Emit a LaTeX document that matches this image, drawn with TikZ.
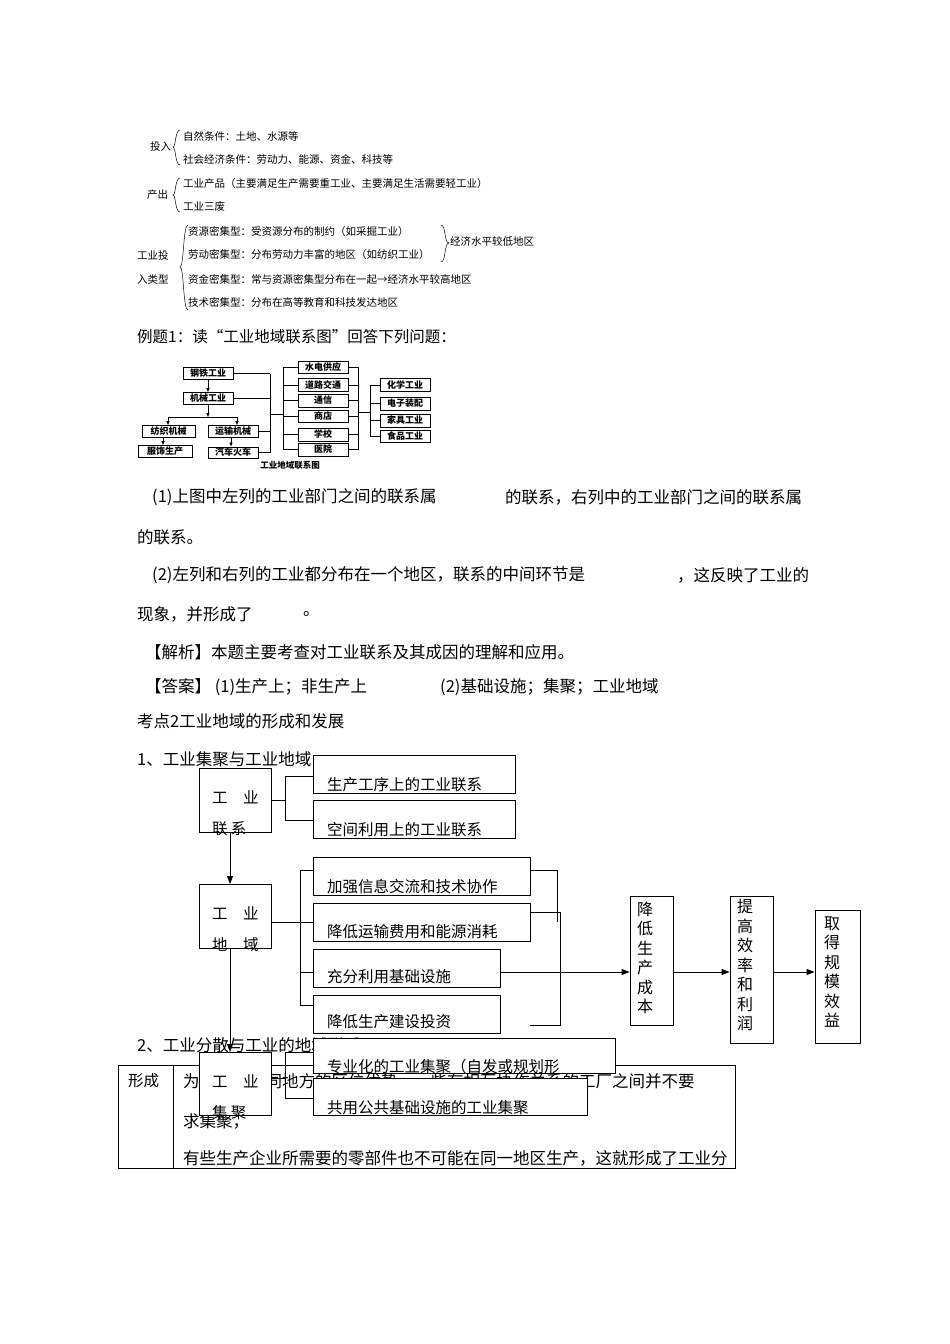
\documentclass[tikz,border=0pt]{standalone}
\usepackage{fontspec}
\setmainfont{Noto Sans CJK SC}
\usetikzlibrary{arrows.meta}
\begin{document}
\begin{tikzpicture}[x=1pt,y=-1pt,
 sm/.style={anchor=west,inner sep=0pt,font=\fontsize{10.5}{12}\selectfont},
 tx/.style={anchor=west,inner sep=0pt,font=\fontsize{16.5}{18}\selectfont},
 bx/.style={draw,fill=white,line width=0.8pt,inner sep=0pt},
 lab/.style={anchor=west,inner sep=0pt,font=\fontsize{15.5}{18}\selectfont},
 mini/.style={draw,line width=1pt,inner sep=0pt,font=\fontsize{9}{10}\selectfont\bfseries},
 ln/.style={line width=0.8pt},
 arr/.style={line width=0.8pt,-{Triangle[length=8pt,width=6pt]}},
 marr/.style={line width=0.8pt,-{Triangle[length=4pt,width=3pt]}},
 vt/.style={align=center,inner sep=0pt,font=\fontsize{16}{19.5}\selectfont}]
\useasboundingbox[fill=white] (0,0) rectangle (950,1344);
% ---- top section
\node[sm] (tr) at (150,147) {投入};
\draw[ln,line width=0.5pt] (180,130) .. controls (175,130) and (176,147) .. (173,147) .. controls (176,147) and (175,165) .. (180,165);
\node[sm] (t1) at (183,136) {自然条件：土地、水源等};
\node[sm] (t2) at (183,159) {社会经济条件：劳动力、能源、资金、科技等};
\node[sm] (cc) at (147,195) {产出};
\draw[ln,line width=0.5pt] (180,178) .. controls (175,178) and (176,195) .. (173,195) .. controls (176,195) and (175,212) .. (180,212);
\node[sm] (c1) at (183,184) {工业产品（主要满足生产需要重工业、主要满足生活需要轻工业）};
\node[sm] (c2) at (183,207) {工业三废};
\node[sm] (g1) at (137,256) {工业投};
\node[sm] (g2) at (137,280) {入类型};
\draw[ln,line width=0.5pt] (188,225) .. controls (183,225) and (184,267) .. (180,267) .. controls (184,267) and (183,310) .. (188,310);
\node[sm] (l1) at (188,232) {资源密集型：受资源分布的制约（如采掘工业）};
\node[sm] (l2) at (188,255) {劳动密集型：分布劳动力丰富的地区（如纺织工业）};
\node[sm] (l3) at (188,279) {资金密集型：常与资源密集型分布在一起→经济水平较高地区};
\node[sm] (l4) at (188,302) {技术密集型：分布在高等教育和科技发达地区};
\draw[ln,line width=0.5pt] (441,225) .. controls (446,225) and (444,243) .. (449,243) .. controls (444,243) and (446,262) .. (441,262);
\node[sm] (l5) at (450,242) {经济水平较低地区};
% ---- example
\node[tx,font=\fontsize{15.5}{18}\selectfont] (ex) at (137,337) {例题1：读“工业地域联系图”回答下列问题：};
% mini diagram
\node[mini,minimum width=50pt,minimum height=12pt] (m1) at (208,373.5) {钢铁工业};
\node[mini,minimum width=50pt,minimum height=12pt] (m2) at (208,398.5) {机械工业};
\node[mini,minimum width=53pt,minimum height=12pt] (m3) at (168.5,431.5) {纺织机械};
\node[mini,minimum width=50pt,minimum height=12pt] (m4) at (233,431.5) {运输机械};
\node[mini,minimum width=54pt,minimum height=12pt] (m5) at (165,451.5) {服饰生产};
\node[mini,minimum width=50pt,minimum height=11pt] (m6) at (233,452.5) {汽车火车};
\draw[marr] (m1) -- (m2);
\draw[marr] (m2.south) -- ++(0,12) coordinate (mj);
\draw[ln] (168,417) -- (237,417);
\draw[marr] (168,417) -- (m3.north -| 168,0);
\draw[marr] (237,417) -- (m4.north -| 237,0);
\draw[marr] (m3.south -| 163,0) -- (m5.north -| 163,0);
\draw[marr] (m4.south -| 231,0) -- (m6.north -| 231,0);
\foreach \n in {m1,m2,m4,m6} \draw[ln] (\n.east) -- (\n.east -| 270,0);
\draw[ln] (270,373.5) -- (270,452.5);
\draw[ln] (270,414) -- (283,414);
\draw[ln] (283,367) -- (283,450);
\node[mini,minimum width=50pt,minimum height=12pt] (r1) at (323,367) {水电供应};
\node[mini,minimum width=50pt,minimum height=13pt] (r2) at (323,385) {道路交通};
\node[mini,minimum width=50pt,minimum height=13pt] (r3) at (323,400.5) {通信};
\node[mini,minimum width=50pt,minimum height=12pt] (r4) at (323,416) {商店};
\node[mini,minimum width=50pt,minimum height=13pt] (r5) at (323,434.5) {学校};
\node[mini,minimum width=50pt,minimum height=13pt] (r6) at (323,449.5) {医院};
\foreach \n in {r1,r2,r3,r4,r5,r6} {\draw[ln] (\n.west) -- (\n.west -| 283,0); \draw[ln] (\n.east) -- (\n.east -| 358,0);}
\draw[ln] (358,367) -- (358,450);
\draw[ln] (358,412) -- (370,412);
\draw[ln] (370,385) -- (370,436);
\node[mini,minimum width=50pt,minimum height=13pt] (q1) at (405,385) {化学工业};
\node[mini,minimum width=50pt,minimum height=13pt] (q2) at (405,403.5) {电子装配};
\node[mini,minimum width=50pt,minimum height=13pt] (q3) at (405,420.5) {家具工业};
\node[mini,minimum width=50pt,minimum height=12pt] (q4) at (405,436) {食品工业};
\foreach \n in {q1,q2,q3,q4} \draw[ln] (\n.west) -- (\n.west -| 370,0);
\node[inner sep=0pt,font=\fontsize{8.5}{10}\selectfont\bfseries] (cap) at (290,465) {工业地域联系图};
% ---- text lines
\node[tx] (p1) at (152,497) {(1)上图中左列的工业部门之间的联系属};
\node[tx] (p1b) at (505,497) {的联系，右列中的工业部门之间的联系属};
\node[tx] (p2) at (137,537) {的联系。};
\node[tx] (p3) at (152,575) {(2)左列和右列的工业都分布在一个地区，联系的中间环节是};
\node[tx] (p3b) at (677,575) {，这反映了工业的};
\node[tx] (p4) at (137,614) {现象，并形成了};
\node[tx] (p4b) at (303,614) {。};
\node[tx] (p5) at (145,652) {【解析】本题主要考查对工业联系及其成因的理解和应用。};
\node[tx] (p6) at (145,687) {【答案】 (1)生产上；非生产上};
\node[tx] (p6b) at (440,687) {(2)基础设施；集聚；工业地域};
\node[tx] (p7) at (137,721) {考点2工业地域的形成和发展};
\node[tx] (p8) at (137,759) {1、工业集聚与工业地域};
\node[tx] (p9) at (137,1045) {2、工业分散与工业的地域联系};
% ---- table
\draw[ln] (118,1065) rectangle (735,1168);
\draw[ln] (173,1065) -- (173,1168);
\node[lab] (f0) at (128,1081) {形成};
\node[lab,font=\fontsize{16.5}{18}\selectfont] (f1) at (183,1081) {为了发挥不同地方的区位优势，一些有相互协作关系的工厂之间并不要};
\node[lab,font=\fontsize{16.5}{18}\selectfont] (f2) at (183,1121) {求集聚，};
\node[lab,font=\fontsize{16.5}{18}\selectfont] (f3) at (183,1158) {有些生产企业所需要的零部件也不可能在同一地区生产，这就形成了工业分};
% ---- big diagram
\node[bx,minimum width=72pt,minimum height=64pt] (A) at (235,800) {};
\node[lab] at (212,797) {工\hspace{1em}业};
\node[lab] at (212,829) {联\hspace{0.2em}系};
\node[bx,minimum width=202pt,minimum height=38pt] (A1) at (414,774) {};
\node[lab] at (327,785) {生产工序上的工业联系};
\node[bx,minimum width=202pt,minimum height=38pt] (A2) at (414,819) {};
\node[lab] at (327,830) {空间利用上的工业联系};
\draw[ln] (A.east |- 0,800) -- (285,800);
\draw[ln] (285,776) -- (285,820);
\draw[ln] (285,776) -- (A1.west |- 0,776);
\draw[ln] (285,820) -- (A2.west |- 0,820);
\node[bx,minimum width=72pt,minimum height=64pt] (B) at (235,916) {};
\node[lab] at (212,913) {工\hspace{1em}业};
\node[lab] at (212,945) {地\hspace{1em}域};
\draw[arr] (230,832) -- (230,884);
\node[bx,minimum width=217pt,minimum height=38pt] (B1) at (421.5,876) {};
\node[lab] at (327,887) {加强信息交流和技术协作};
\node[bx,minimum width=217pt,minimum height=38pt] (B2) at (421.5,922) {};
\node[lab] at (327,932) {降低运输费用和能源消耗};
\node[bx,minimum width=187pt,minimum height=38pt] (B3) at (406.5,968) {};
\node[lab] at (327,977) {充分利用基础设施};
\node[bx,minimum width=187pt,minimum height=38pt] (B4) at (406.5,1014) {};
\node[lab] at (327,1022) {降低生产建设投资};
\draw[ln] (271,922) -- (B2.west);
\draw[ln] (300,870) -- (300,1005);
\draw[ln] (300,870) -- (313,870);
\draw[ln] (300,972) -- (313,972);
\draw[ln] (300,1005) -- (313,1005);
\draw[ln] (530,870) -- (557,870) -- (557,922);
\draw[ln] (530,912) -- (560,912) -- (560,1025) -- (530,1025);
\node[bx,minimum width=43pt,minimum height=129pt] (C1) at (651.5,960.5) {};
\node[vt] at (645,958) {降\\低\\生\\产\\成\\本};
\node[bx,minimum width=43pt,minimum height=147pt] (C2) at (751.5,969.5) {};
\node[vt] at (745,965) {提\\高\\效\\率\\和\\利\\润};
\node[bx,minimum width=45pt,minimum height=133pt] (C3) at (837.5,976.5) {};
\node[vt] at (832,972) {取\\得\\规\\模\\效\\益};
\draw[arr] (B3.east |- 0,972) -- (C1.west |- 0,972);
\draw[arr] (C1.east |- 0,972) -- (C2.west |- 0,972);
\draw[arr] (C2.east |- 0,972) -- (C3.west |- 0,972);
\draw[arr] (230,948) -- (230,1052);
\node[bx,minimum width=72pt,minimum height=63pt] (D) at (235,1083.5) {};
\node[lab] at (212,1081) {工\hspace{1em}业};
\node[lab] at (212,1113) {集\hspace{0.2em}聚};
\node[bx,minimum width=302pt,minimum height=35pt] (D1) at (464,1055.5) {};
\node[lab] at (327,1067) {专业化的工业集聚（自发或规划形};
\node[bx,minimum width=274pt,minimum height=37pt] (D2) at (450,1096.5) {};
\node[lab] at (327,1108) {共用公共基础设施的工业集聚};
\draw[ln] (271,1078) -- (285,1078);
\draw[ln] (285,1052) -- (285,1098);
\draw[ln] (285,1052) -- (313,1052);
\draw[ln] (285,1098) -- (313,1098);
\end{tikzpicture}
\end{document}
